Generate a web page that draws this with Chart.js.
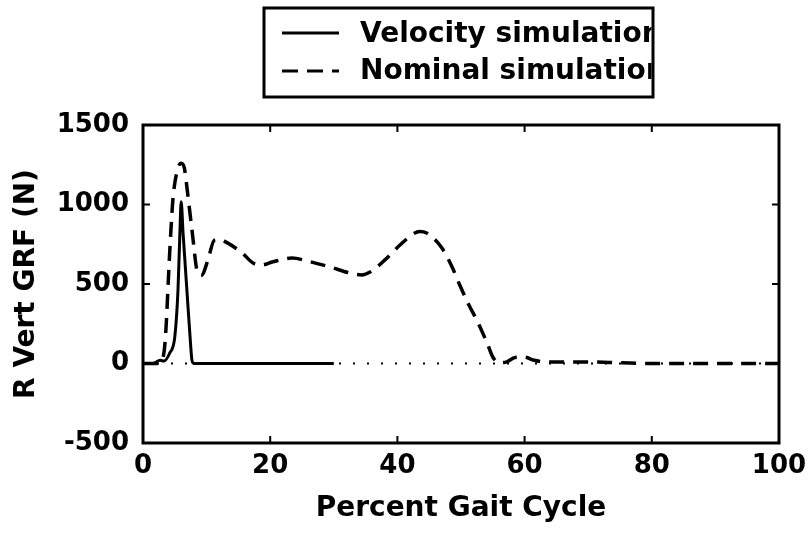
<!DOCTYPE html>
<html>
<head>
<meta charset="utf-8">
<script src="https://cdn.jsdelivr.net/npm/chart.js@4.4.1/dist/chart.umd.min.js"></script>
<style>
  html, body { margin: 0; padding: 0; background: #fff; }
  #wrap { width: 809px; height: 536px; }
</style>
</head>
<body>
<div id="wrap"><canvas id="grf"></canvas></div>
<script>
// series (percent gait cycle -> N)
let velPct = [0, 1.5, 2.7, 3.3, 4.2, 5.0, 5.5, 5.8, 6.0, 6.3, 6.9, 7.4, 7.7, 8.0, 12, 20, 30];
let velForce = [0, 0, 20, 15, 66, 167, 462, 820, 1017, 820, 462, 167, 20, 0, 0, 0, 0];

let nomPct = [0, 2, 3, 3.5, 4.2, 4.7, 5.3, 6.0, 6.5, 6.9, 7.7, 8.6, 9.2, 10.2, 11.2, 12, 13.2, 15.6, 17.3, 18.7, 20.3, 23.4,
  26.3, 29.4, 32.5, 34.4, 35.7, 38, 40.4, 42.5, 43.5, 44.6, 47, 48.6, 49.8, 51.1, 52.7, 54.1, 55, 56, 57.2, 58.5, 60,
  61.5, 63.5, 66, 70, 75, 80, 90, 100];
let nomForce = [0, 0, 20, 150, 700, 1030, 1200, 1260, 1230, 1110, 840, 570, 555, 650, 775, 780, 760, 695, 632, 620, 638, 663,
  640, 607, 569, 557, 575, 650, 745, 815, 830, 820, 726, 607, 494, 380, 255, 129, 41, 5, 10, 38, 40,
  20, 10, 10, 10, 5, 0, 0, 0];

let zeroPct = [0, 100];
let zeroForce = [0, 0];

let legendLabels = ['Velocity simulation', 'Nominal simulation'];
let xTicks = [0, 20, 40, 60, 80, 100];
let yTicks = [-500, 0, 500, 1000, 1500];

const FONT = 'DejaVu Sans';

function pts(xs, ys) {
  return xs.map((x, i) => ({ x: x, y: ys[i] }));
}

// box round the plot, ticks pointing inward, legend above
let matlabFrame = {
  id: 'matlabFrame',
  afterDraw(chart) {
    let ctx = chart.ctx;
    let a = chart.chartArea;
    let xs = chart.scales.x;
    let ys = chart.scales.y;
    ctx.save();
    ctx.strokeStyle = '#000';
    ctx.lineWidth = 3;
    ctx.strokeRect(a.left, a.top, a.right - a.left, a.bottom - a.top);
    ctx.lineWidth = 2;
    let tl = 7;
    ctx.beginPath();
    xTicks.forEach(v => {
      let px = xs.getPixelForValue(v);
      ctx.moveTo(px, a.bottom); ctx.lineTo(px, a.bottom - tl);
      ctx.moveTo(px, a.top); ctx.lineTo(px, a.top + tl);
    });
    yTicks.forEach(v => {
      let py = ys.getPixelForValue(v);
      ctx.moveTo(a.left, py); ctx.lineTo(a.left + tl, py);
      ctx.moveTo(a.right, py); ctx.lineTo(a.right - tl, py);
    });
    ctx.stroke();

    // legend box (text gets clipped by the frame like the original)
    let bx = 264, by = 8, bw = 389, bh = 89;
    ctx.lineWidth = 3;
    ctx.strokeRect(bx, by, bw, bh);
    ctx.beginPath();
    ctx.rect(bx + 1.5, by + 1.5, bw - 3, bh - 3);
    ctx.clip();
    ctx.lineWidth = 3;
    ctx.beginPath();
    ctx.moveTo(282, 33); ctx.lineTo(339, 33);
    ctx.stroke();
    ctx.setLineDash([16, 9]);
    ctx.beginPath();
    ctx.moveTo(282, 71); ctx.lineTo(339, 71);
    ctx.stroke();
    ctx.setLineDash([]);
    ctx.fillStyle = '#000';
    ctx.font = 'bold 28px "' + FONT + '"';
    ctx.textBaseline = 'alphabetic';
    ctx.fillText(legendLabels[0], 360, 42);
    ctx.fillText(legendLabels[1], 360, 79);
    ctx.restore();
  }
};

let ctx = document.getElementById('grf').getContext('2d');

let grfChart = new Chart(ctx, {
  type: 'line',
  data: {
    datasets: [
      {
        label: 'zero',
        data: pts(zeroPct, zeroForce),
        borderColor: '#000',
        borderWidth: 2,
        borderDash: [2, 12],
        pointRadius: 0
      },
      {
        label: legendLabels[1],
        data: pts(nomPct, nomForce),
        borderColor: '#000',
        borderWidth: 3.5,
        borderDash: [15, 9],
        pointRadius: 0,
        cubicInterpolationMode: 'monotone'
      },
      {
        label: legendLabels[0],
        data: pts(velPct, velForce),
        borderColor: '#000',
        borderWidth: 3,
        pointRadius: 0,
        cubicInterpolationMode: 'monotone'
      }
    ]
  },
  options: {
    responsive: true,
    maintainAspectRatio: false,
    animation: false,
    layout: {
      padding: { top: 125, right: 30, left: 0, bottom: 0 }
    },
    plugins: {
      legend: { display: false },
      tooltip: { enabled: false }
    },
    scales: {
      x: {
        type: 'linear',
        min: 0,
        max: 100,
        afterBuildTicks: (s) => { s.ticks = xTicks.map(v => ({ value: v })); },
        afterFit: (s) => { s.height = 93; s.paddingLeft = 0; s.paddingRight = 0; },
        grid: { display: false, drawTicks: false },
        border: { display: false },
        ticks: {
          color: '#000',
          padding: 8,
          maxRotation: 0,
          callback: (v) => String(v),
          font: { family: FONT, size: 26, weight: 'bold' }
        },
        title: {
          display: true,
          text: 'Percent Gait Cycle',
          color: '#000',
          padding: { top: 0, bottom: 10 },
          font: { family: FONT, size: 28, weight: 'bold' }
        }
      },
      y: {
        min: -500,
        max: 1500,
        afterBuildTicks: (s) => { s.ticks = yTicks.map(v => ({ value: v })); },
        afterFit: (s) => { s.width = 143; s.paddingTop = 0; s.paddingBottom = 0; },
        grid: { display: false, drawTicks: false },
        border: { display: false },
        ticks: {
          color: '#000',
          padding: 14,
          callback: (v) => String(v),
          font: { family: FONT, size: 26, weight: 'bold' }
        },
        title: {
          display: true,
          text: 'R Vert GRF (N)',
          color: '#000',
          padding: { top: 10, bottom: 0 },
          font: { family: FONT, size: 28, weight: 'bold' }
        }
      }
    }
  },
  plugins: [matlabFrame]
});
</script>
</body>
</html>
